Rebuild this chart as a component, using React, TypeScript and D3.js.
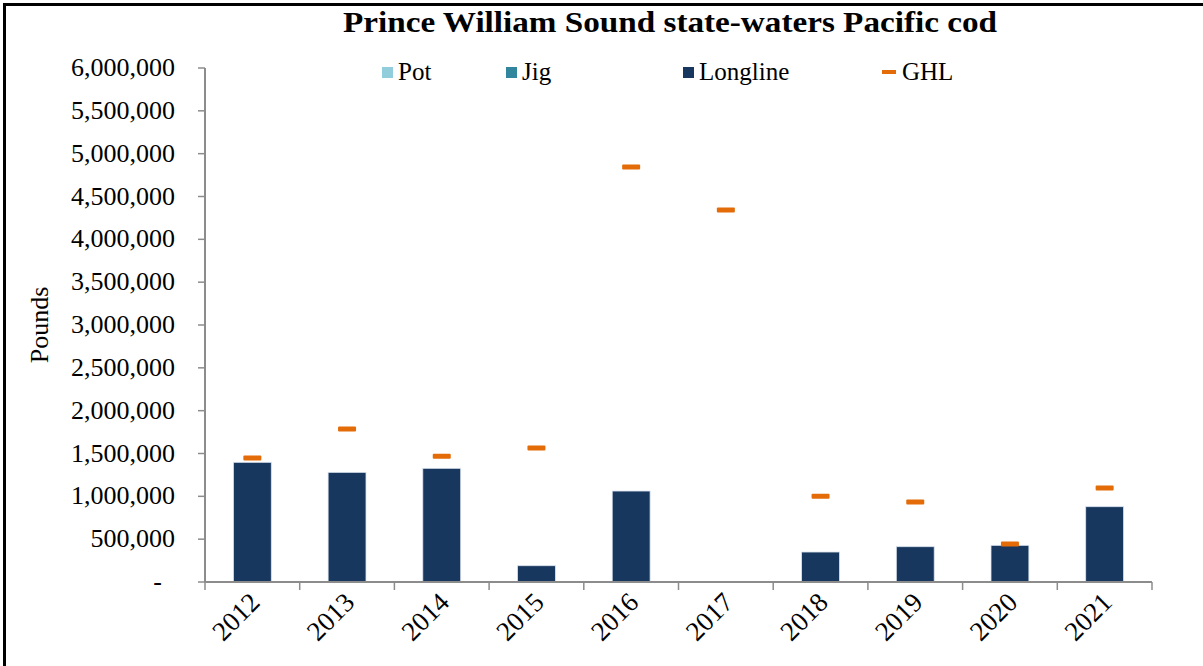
import { useEffect, useRef } from 'react'
import * as d3 from 'd3'

const years = ['2012', '2013', '2014', '2015', '2016', '2017', '2018', '2019', '2020', '2021']
const pot = [0, 0, 0, 0, 0, 0, 0, 0, 0, 0]
const jig = [0, 0, 0, 0, 0, 0, 0, 0, 0, 0]
const longline = [1397000, 1280000, 1327000, 190000, 1062000, 0, 350000, 412000, 428000, 879000]
const ghl = [1447000, 1786000, 1467000, 1564000, 4844000, 4342000, 1000000, 934000, 444000, 1097000]
const yTicks = [0, 500000, 1000000, 1500000, 2000000, 2500000, 3000000, 3500000, 4000000, 4500000, 5000000, 5500000, 6000000]

const W = 1203, H = 666
const SERIF = '"Liberation Serif", "DejaVu Serif", serif'

const legendItems = [
  { name: 'Pot', color: '#92cddc', x: 382, kind: 'box' },
  { name: 'Jig', color: '#31859c', x: 506, kind: 'box' },
  { name: 'Longline', color: '#17375e', x: 683, kind: 'box' },
  { name: 'GHL', color: '#e36c09', x: 882, kind: 'dash' },
]

export default function App() {
  const svgRef = useRef<SVGSVGElement>(null)

  useEffect(() => {
    const svg = d3.select(svgRef.current)
    svg.selectAll('*').remove()

    const left = 205, right = 1152, top = 68, bottom = 582
    const x = d3.scaleBand(years, [left, right]).paddingInner(0.6).paddingOuter(0.3)
    const xb = d3.scaleBand(years, [left, right])
    const y = d3.scaleLinear([0, 6000000], [bottom, top])

    svg.append('rect').attr('width', W).attr('height', H).attr('fill', '#fff')

    // frame
    svg.append('line').attr('x1', 4.5).attr('x2', 4.5).attr('y1', 4).attr('y2', H).attr('stroke', '#000').attr('stroke-width', 3)
    svg.append('line').attr('x1', 3).attr('x2', W).attr('y1', 4.5).attr('y2', 4.5).attr('stroke', '#000').attr('stroke-width', 3)

    // title
    svg.append('text').attr('x', 670).attr('y', 32).attr('text-anchor', 'middle')
      .attr('font-family', SERIF).attr('font-weight', 'bold').attr('font-size', 30)
      .attr('textLength', 654).attr('lengthAdjust', 'spacingAndGlyphs')
      .text('Prince William Sound state-waters Pacific cod')

    // stacked bars
    const stack = d3.stack<number>().keys(['0', '1', '2'])
      .value((i, key) => [pot, jig, longline][+key][i])
    const series = stack(years.map((_, i) => i))
    const colors = ['#92cddc', '#31859c', '#17375e']
    series.forEach((s, si) => {
      s.forEach((d, i) => {
        if (d[1] - d[0] <= 0) return
        svg.append('rect')
          .attr('x', x(years[i])!).attr('width', x.bandwidth())
          .attr('y', y(d[1])).attr('height', y(d[0]) - y(d[1]))
          .attr('fill', colors[si]).attr('stroke', '#dbe3ee').attr('stroke-width', 0.8)
      })
    })

    // GHL markers
    ghl.forEach((v, i) => {
      const cx = x(years[i])! + x.bandwidth() / 2
      svg.append('rect').attr('x', cx - 9).attr('y', y(v) - 2.5).attr('width', 18).attr('height', 5)
        .attr('rx', 1).attr('fill', '#e36c09')
    })

    // y axis
    const axisColor = '#8c8c8c'
    svg.append('line').attr('x1', left).attr('x2', left).attr('y1', top).attr('y2', bottom)
      .attr('stroke', axisColor).attr('stroke-width', 2)
    yTicks.forEach((t) => {
      svg.append('line').attr('x1', left - 7).attr('x2', left).attr('y1', y(t)).attr('y2', y(t))
        .attr('stroke', axisColor).attr('stroke-width', 1.5)
      svg.append('text').attr('x', t === 0 ? 162 : 175).attr('y', y(t) + 8).attr('text-anchor', 'end')
        .attr('font-family', SERIF).attr('font-size', 26).attr('fill', '#000')
        .text(t === 0 ? '-' : d3.format(',')(t))
    })
    svg.append('text').attr('transform', `translate(48,${(top + bottom) / 2}) rotate(-90)`)
      .attr('text-anchor', 'middle').attr('font-family', SERIF).attr('font-size', 26)
      .text('Pounds')

    // x axis
    svg.append('line').attr('x1', left).attr('x2', right).attr('y1', bottom).attr('y2', bottom)
      .attr('stroke', axisColor).attr('stroke-width', 2)
    years.forEach((yr, i) => {
      const tx = xb(yr)!
      svg.append('line').attr('x1', tx).attr('x2', tx).attr('y1', bottom).attr('y2', bottom + 8)
        .attr('stroke', axisColor).attr('stroke-width', 1.5)
      if (i === years.length - 1) {
        svg.append('line').attr('x1', right).attr('x2', right).attr('y1', bottom).attr('y2', bottom + 8)
          .attr('stroke', axisColor).attr('stroke-width', 1.5)
      }
      const cx = tx + xb.bandwidth() / 2
      svg.append('text').attr('transform', `translate(${cx + 9},${bottom + 22}) rotate(-45)`)
        .attr('text-anchor', 'end').attr('font-family', SERIF).attr('font-size', 27)
        .text(yr)
    })

    // legend
    legendItems.forEach((it) => {
      if (it.kind === 'box') {
        svg.append('rect').attr('x', it.x).attr('y', 67).attr('width', 11).attr('height', 11).attr('fill', it.color)
      } else {
        svg.append('rect').attr('x', it.x).attr('y', 70).attr('width', 14).attr('height', 4).attr('fill', it.color)
      }
      svg.append('text').attr('x', it.x + (it.kind === 'box' ? 16 : 20)).attr('y', 80)
        .attr('font-family', SERIF).attr('font-size', 25).text(it.name)
    })
  }, [])

  return <svg ref={svgRef} width={W} height={H} style={{ position: 'absolute', left: 0, top: 0 }} />
}
